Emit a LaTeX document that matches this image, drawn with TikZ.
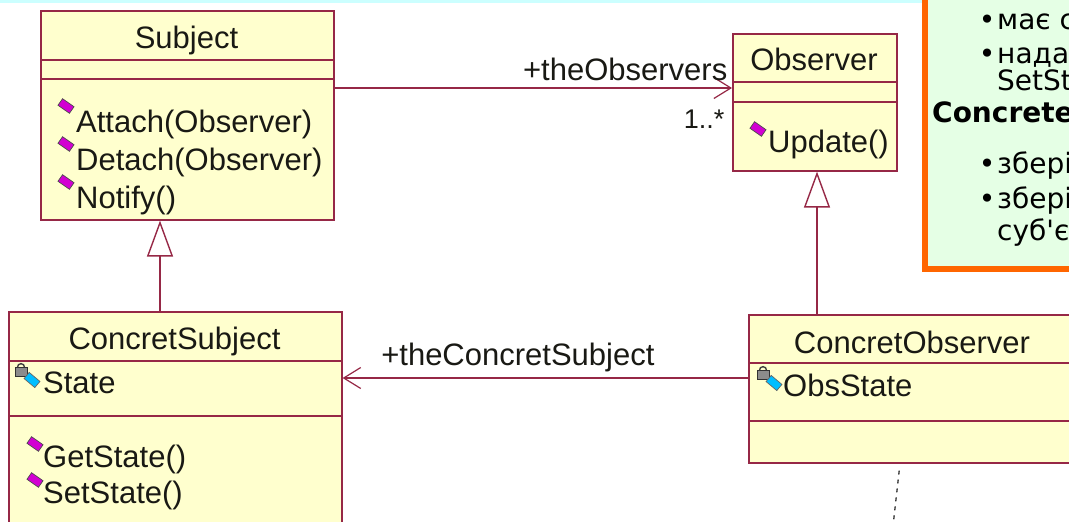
\documentclass[tikz,border=0pt]{standalone}
\usepackage{fontspec}
\setmainfont{Liberation Sans}
\newfontfamily\notefont{DejaVu Sans}
\usetikzlibrary{arrows.meta, positioning, calc}
\definecolor{umlline}{RGB}{150,40,70}
\definecolor{umlfill}{RGB}{255,255,206}
\definecolor{umltext}{RGB}{25,25,20}
\definecolor{notefill}{RGB}{229,255,229}
\definecolor{noteedge}{RGB}{255,102,0}
\definecolor{opmag}{RGB}{210,0,210}
\definecolor{attcyan}{RGB}{0,190,255}
\definecolor{topstrip}{RGB}{204,255,255}

\begin{document}
\begin{tikzpicture}[x=1pt, y=-1pt,
  cls/.style={draw=umlline, fill=umlfill, line width=1.6pt, rectangle,
              inner sep=0pt, anchor=north west},
  sep/.style={draw=umlline, line width=1.6pt},
  ttl/.style={font=\fontsize{31}{37}\selectfont, text=umltext, inner sep=0pt, anchor=base},
  itm/.style={font=\fontsize{31}{37}\selectfont, text=umltext, inner sep=0pt, anchor=base west},
  lbl/.style={font=\fontsize{31}{37}\selectfont, text=umltext, inner sep=0pt},
  opmark/.style={draw=black!70, fill=opmag, line width=0.7pt, rectangle, inner sep=0pt,
                 minimum width=14pt, minimum height=8pt, rotate=-35},
  attmark/.style={draw=black!60, fill=attcyan, line width=0.7pt, rectangle, inner sep=0pt,
                  minimum width=14pt, minimum height=8pt, rotate=-40},
  lockmark/.style={draw=black!80, fill=black!45, line width=0.7pt, rectangle, inner sep=0pt,
                   minimum width=12pt, minimum height=9pt},
  assoc/.style={draw=umlline, line width=1.4pt,
                -{Straight Barb[length=17pt, width=21pt, line width=1.2pt]}},
  gen/.style={draw=umlline, line width=1.4pt,
              -{Triangle[open, length=36pt, width=26pt, line width=1.4pt]}},
  notelink/.style={draw=black!80, line width=1.3pt, dash pattern=on 4pt off 5pt},
  notebox/.style={draw=noteedge, fill=notefill, line width=5.5pt, rectangle,
                  inner sep=0pt, anchor=north west},
  ntxt/.style={font=\notefont\fontsize{28}{32}\selectfont, inner sep=0pt, anchor=base west},
  nbul/.style={font=\notefont\fontsize{28}{32}\selectfont, inner sep=0pt, anchor=base}
]
\useasboundingbox (0,0) rectangle (1069,522);
\clip (0,0) rectangle (1069,522);
\fill[white] (0,0) rectangle (1069,522);
\fill[topstrip] (0,0) rectangle (1069,2.5);

% ----- Subject -----
\node[cls, minimum width=293pt, minimum height=209pt] (subj) at (40,10) {};
\draw[sep] (40,60) -- (333,60);
\draw[sep] (40,79) -- (333,79);
\node[ttl] (subjT) at (186.5,48) {Subject};
\node[opmark] (i1) at (66,106) {};
\node[itm] (att) at (76,132) {Attach(Observer)};
\node[opmark] (i2) at (66,144) {};
\node[itm] (det) at (76,170) {Detach(Observer)};
\node[opmark] (i3) at (66,182) {};
\node[itm] (ntf) at (76,208) {Notify()};

% ----- Observer -----
\node[cls, minimum width=164pt, minimum height=137pt] (obs) at (732,33) {};
\draw[sep] (732,82) -- (896,82);
\draw[sep] (732,102) -- (896,102);
\node[ttl] (obsT) at (814,70) {Observer};
\node[opmark] (i4) at (758,129) {};
\node[itm] (upd) at (768,152) {Update()};

% ----- ConcretSubject -----
\node[cls, minimum width=333pt, minimum height=240pt] (csubj) at (8,311) {};
\draw[sep] (8,361) -- (341,361);
\draw[sep] (8,416) -- (341,416);
\node[ttl] (csubjT) at (174.5,349) {ConcretSubject};
\node[lockmark] (lk1) at (21,372) {};
\draw[black!75, line width=1.4pt] ([xshift=-3.5pt]lk1.north) arc[start angle=180, end angle=0, radius=3.5pt];
\node[attmark] (i5) at (32,380) {};
\node[itm] (st) at (43,393) {State};
\node[opmark] (i6) at (35,444) {};
\node[itm] (gst) at (43,467) {GetState()};
\node[opmark] (i7) at (35,480) {};
\node[itm] (sst) at (43,503) {SetState()};

% ----- ConcretObserver -----
\node[cls, minimum width=340pt, minimum height=148pt] (cobs) at (748,314) {};
\draw[sep] (748,363) -- (1088,363);
\draw[sep] (748,421) -- (1088,421);
\node[ttl] (cobsT) at (912,353) {ConcretObserver};
\node[lockmark] (lk2) at (763,375) {};
\draw[black!75, line width=1.4pt] ([xshift=-3.5pt]lk2.north) arc[start angle=180, end angle=0, radius=3.5pt];
\node[attmark] (i8) at (774,383) {};
\node[itm] (ost) at (783,396) {ObsState};

% ----- links -----
\coordinate (a1) at (0,88);
\coordinate (a2) at (0,378);
\coordinate (g1) at (160,0);
\coordinate (g2) at (817,0);
\draw[assoc] (subj.east |- a1) -- (obs.west |- a1)
  node[lbl, at end, anchor=base east, xshift=-4pt, yshift=8pt] (oname) {+theObservers}
  node[lbl, at end, anchor=base east, xshift=-7pt, yshift=-40pt,
       font=\fontsize{27}{30}\selectfont] (mult) {1..*};
\draw[gen] (csubj.north -| g1) -- (subj.south -| g1);
\draw[gen] (cobs.north -| g2) -- (obs.south -| g2);
\draw[assoc] (cobs.west |- a2) -- (csubj.east |- a2)
  node[lbl, at end, anchor=base west, xshift=38pt, yshift=13pt] (sname) {+theConcretSubject};
\coordinate (dtop) at (900,0);
\coordinate (dend) at (893,526);
\draw[notelink, shorten <=7pt] (cobs.south -| dtop) -- (dend);

% ----- note -----
\node[notebox, minimum width=180pt, minimum height=286pt] (note) at (922,-20) {};
\node[nbul] (b1) at (987,29) {•};
\node[ntxt] (n1) at (997,29) {має с};
\node[nbul] (b2) at (987,63) {•};
\node[ntxt] (n2) at (997,63) {надає};
\node[ntxt] (n3) at (997,90) {SetSta};
\node[ntxt, font=\notefont\bfseries\fontsize{28}{32}\selectfont] (n4) at (932,122) {Concrete};
\node[nbul] (b5) at (987,173) {•};
\node[ntxt] (n5) at (997,173) {зберi};
\node[nbul] (b6) at (987,208) {•};
\node[ntxt] (n6) at (997,208) {зберi};
\node[ntxt] (n7) at (997,240) {суб\textquotesingle єк};
\end{tikzpicture}
\end{document}
